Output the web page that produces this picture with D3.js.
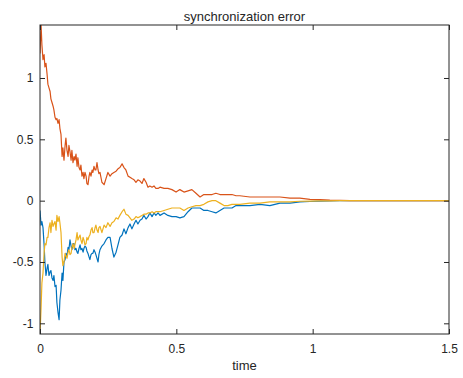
<!DOCTYPE html>
<html>
<head>
<meta charset="utf-8">
<script src="https://cdn.jsdelivr.net/npm/d3@7"></script>
<style>
  body { margin: 0; background: #fff; }
  svg text { font-family: "Liberation Sans", Arial, Helvetica, sans-serif; fill: #262626; }
</style>
</head>
<body>
<div id="canvas"></div>
<script>
const time = [
  0, .004, .007, .011, .015, .018, .022, .026, .029, .033, .037, .040, .044, .048, .051, .055, .059, .062, .066, .070,
  .073, .077, .081, .084, .088, .092, .095, .099, .103, .106, .110, .114, .117, .121, .125, .128, .132, .136, .139, .143,
  .147, .150, .154, .158, .161, .165, .169, .172, .176, .180, .183, .187, .191, .194, .198, .202, .205, .209, .213, .216, .220,
  .227, .235, .242, .249, .257, .264, .271, .279, .286, .293, .301, .308, .315, .323, .330, .337, .345, .352, .359, .367,
  .374, .381, .389, .396, .403, .411, .418, .425, .433, .440,
  .455, .469, .484, .499, .513, .528, .543, .557, .572, .587, .601, .616, .631, .645, .660, .675, .689, .704, .719, .733,
  .770, .807, .843, .880, .917, .953, .990, 1.027, 1.063, 1.100, 1.137,
  1.2, 1.3, 1.4, 1.5
];

// node 1 error (orange)
const err1 = [
  1.20, 1.43, 1.27, 1.15, 1.19, 1.09, 1.12, 1.03, 0.95, 0.92,
  0.89, 0.83, 0.80, 0.77, 0.74, 0.68, 0.66, 0.67, 0.63, 0.66,
  0.59, 0.54, 0.36, 0.43, 0.33, 0.45, 0.51, 0.41, 0.36, 0.45,
  0.40, 0.33, 0.41, 0.31, 0.36, 0.33, 0.38, 0.28, 0.35, 0.27,
  0.25, 0.29, 0.20, 0.23, 0.18, 0.23, 0.20, 0.14, 0.13, 0.20,
  0.23, 0.20, 0.25, 0.23, 0.28, 0.25, 0.25, 0.31, 0.25, 0.22, 0.23,
  0.15, 0.13, 0.18, 0.23, 0.20, 0.22, 0.23, 0.24, 0.26, 0.27,
  0.30, 0.27, 0.25, 0.20, 0.19, 0.18, 0.17, 0.15, 0.17, 0.16,
  0.14, 0.18, 0.15, 0.11, 0.12, 0.11, 0.12, 0.10, 0.10, 0.11,
  0.10, 0.10, 0.09, 0.07, 0.09, 0.07, 0.08, 0.09, 0.06, 0.03,
  0.05, 0.05, 0.05, 0.06, 0.05, 0.05, 0.05, 0.05, 0.04, 0.04,
  0.03, 0.03, 0.03, 0.03, 0.02, 0.02, 0.01, 0.008, 0.004, 0.002, 0,
  0, 0, 0, 0
];

// node 2 error (blue)
const err2 = [
  -0.08, -0.20, -0.17, -0.22, -0.36, -0.50, -0.61, -0.55, -0.52, -0.61,
  -0.58, -0.57, -0.63, -0.65, -0.61, -0.70, -0.69, -0.83, -0.91, -0.97,
  -0.81, -0.73, -0.59, -0.65, -0.50, -0.48, -0.43, -0.45, -0.38, -0.40,
  -0.32, -0.37, -0.40, -0.35, -0.35, -0.40, -0.39, -0.42, -0.43, -0.39,
  -0.36, -0.40, -0.39, -0.42, -0.39, -0.37, -0.38, -0.41, -0.43, -0.46,
  -0.48, -0.44, -0.43, -0.43, -0.40, -0.42, -0.44, -0.47, -0.50, -0.44, -0.40,
  -0.37, -0.35, -0.32, -0.30, -0.30, -0.39, -0.46, -0.42, -0.36, -0.30,
  -0.28, -0.23, -0.27, -0.22, -0.19, -0.23, -0.19, -0.16, -0.19, -0.16,
  -0.15, -0.12, -0.15, -0.13, -0.10, -0.13, -0.10, -0.12, -0.10, -0.12,
  -0.10, -0.12, -0.13, -0.13, -0.14, -0.13, -0.09, -0.06, -0.06, -0.06,
  -0.08, -0.08, -0.09, -0.10, -0.08, -0.06, -0.06, -0.06, -0.04, -0.04,
  -0.04, -0.03, -0.04, -0.02, -0.02, -0.01, -0.007, -0.003, -0.001, 0, 0,
  0, 0, 0, 0
];

// node 3 error (yellow)
const err3 = [
  -1.09, -0.87, -0.67, -0.59, -0.43, -0.35, -0.36, -0.30, -0.30, -0.22,
  -0.18, -0.26, -0.16, -0.21, -0.19, -0.17, -0.24, -0.12, -0.17, -0.13,
  -0.18, -0.26, -0.46, -0.53, -0.50, -0.43, -0.45, -0.47, -0.42, -0.40,
  -0.44, -0.43, -0.38, -0.35, -0.39, -0.36, -0.32, -0.26, -0.32, -0.30,
  -0.28, -0.32, -0.35, -0.30, -0.32, -0.36, -0.35, -0.30, -0.32, -0.29,
  -0.28, -0.24, -0.22, -0.26, -0.26, -0.22, -0.20, -0.24, -0.26, -0.22, -0.21,
  -0.26, -0.20, -0.22, -0.18, -0.21, -0.18, -0.17, -0.14, -0.15, -0.12,
  -0.09, -0.07, -0.11, -0.12, -0.14, -0.16, -0.15, -0.13, -0.14, -0.13,
  -0.12, -0.11, -0.11, -0.10, -0.10, -0.09, -0.10, -0.09, -0.09, -0.09,
  -0.08, -0.07, -0.06, -0.06, -0.06, -0.08, -0.06, -0.05, -0.04, -0.04,
  -0.03, -0.01, 0.00, 0.00, -0.02, -0.04, -0.04, -0.03, -0.03, -0.03,
  -0.02, -0.02, -0.01, -0.01, -0.01, -0.005, -0.004, -0.002, -0.001, 0, 0,
  0, 0, 0, 0
];

const xTicks = [0, 0.5, 1, 1.5];
const yTicks = [-1, -0.5, 0, 0.5, 1];

const width = 463;
const height = 378;
const margin = { top: 25, left: 40, bottom: 44, right: 14 };

const svg = d3.select("#canvas").append("svg")
  .attr("width", width)
  .attr("height", height);

const x = d3.scaleLinear()
  .domain([0, 1.5])
  .range([margin.left, width - margin.right]);

const y = d3.scaleLinear()
  .domain([-1.087, 1.432])
  .range([height - margin.bottom, margin.top]);

svg.append("clipPath").attr("id", "plot")
  .append("rect")
  .attr("x", x(0)).attr("y", y(1.432))
  .attr("width", x(1.5) - x(0)).attr("height", y(-1.087) - y(1.432));

const series = [
  { values: err2, color: "#0072BD" },
  { values: err1, color: "#D95319" },
  { values: err3, color: "#EDB120" }
];

const line = d3.line()
  .x((d, i) => x(time[i]))
  .y(d => y(d));

svg.append("g")
  .attr("clip-path", "url(#plot)")
  .selectAll("path")
  .data(series)
  .enter().append("path")
  .attr("fill", "none")
  .attr("stroke", d => d.color)
  .attr("stroke-width", 1.2)
  .attr("stroke-linejoin", "round")
  .attr("d", d => line(d.values));

const fmt = d => String(d);
const tick = 5;

svg.append("g")
  .attr("transform", `translate(0,${y.range()[0]})`)
  .call(d3.axisBottom(x).tickValues(xTicks).tickSize(-tick).tickPadding(10).tickFormat(fmt));

svg.append("g")
  .attr("transform", `translate(0,${y.range()[1]})`)
  .call(d3.axisTop(x).tickValues(xTicks).tickSize(-tick).tickFormat(""));

svg.append("g")
  .attr("transform", `translate(${x.range()[0]},0)`)
  .call(d3.axisLeft(y).tickValues(yTicks).tickSize(-tick).tickPadding(6.5).tickFormat(fmt));

svg.append("g")
  .attr("transform", `translate(${x.range()[1]},0)`)
  .call(d3.axisRight(y).tickValues(yTicks).tickSize(-tick).tickFormat(""));

svg.selectAll(".domain").remove();
svg.selectAll(".tick line").attr("stroke", "#262626");
svg.selectAll(".tick text").style("font-size", "12px").attr("fill", "#262626");

// box around the axes
svg.append("rect")
  .attr("x", x.range()[0]).attr("y", y.range()[1])
  .attr("width", x.range()[1] - x.range()[0])
  .attr("height", y.range()[0] - y.range()[1])
  .attr("fill", "none")
  .attr("stroke", "#262626")
  .attr("stroke-width", 1);

svg.append("text")
  .attr("x", (x.range()[0] + x.range()[1]) / 2)
  .attr("y", 20.5)
  .attr("text-anchor", "middle")
  .style("font-size", "13px")
  .text("synchronization error");

svg.append("text")
  .attr("x", (x.range()[0] + x.range()[1]) / 2)
  .attr("y", 370)
  .attr("text-anchor", "middle")
  .style("font-size", "13px")
  .text("time");
</script>
</body>
</html>
